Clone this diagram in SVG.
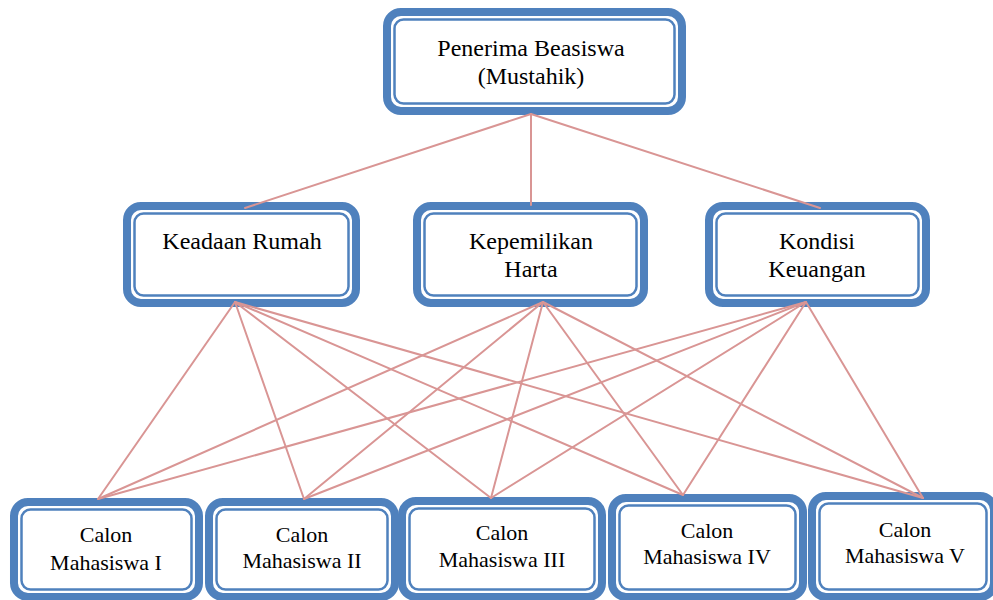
<svg xmlns="http://www.w3.org/2000/svg" width="993" height="600" viewBox="0 0 993 600">
<style>
.o{fill:#fff;stroke:#4F81BD;stroke-width:8}
.i{fill:#fff;stroke:#4F81BD;stroke-width:2.5}
.t{font-family:"Liberation Serif","Times New Roman",serif;fill:#000;text-anchor:middle}
.l{font-size:24px}
.s{font-size:22px}
.c line{stroke:#D99594;stroke-width:2;stroke-linecap:round}
</style>
<rect width="993" height="600" fill="#fff"/>
<g id="penerima">
<rect class="o" x="387" y="12" width="295" height="99" rx="14"/>
<rect class="i" x="394.5" y="19.5" width="280" height="84" rx="9"/>
<text class="t l" x="531" y="56">Penerima Beasiswa</text>
<text class="t l" x="531" y="84">(Mustahik)</text>
</g>
<g id="keadaan">
<rect class="o" x="127" y="206" width="229" height="97" rx="14"/>
<rect class="i" x="134.5" y="213.5" width="214" height="82" rx="9"/>
<text class="t l" x="242" y="249">Keadaan Rumah</text>
</g>
<g id="kepemilikan">
<rect class="o" x="417" y="206" width="227" height="97" rx="14"/>
<rect class="i" x="424.5" y="213.5" width="212" height="82" rx="9"/>
<text class="t l" x="531" y="249">Kepemilikan</text>
<text class="t l" x="531" y="277">Harta</text>
</g>
<g id="kondisi">
<rect class="o" x="709" y="206" width="217" height="97" rx="14"/>
<rect class="i" x="716.5" y="213.5" width="202" height="82" rx="9"/>
<text class="t l" x="817" y="249">Kondisi</text>
<text class="t l" x="817" y="277">Keuangan</text>
</g>
<g id="calon1">
<rect class="o" x="14" y="502" width="185" height="95" rx="14"/>
<rect class="i" x="21.5" y="509.5" width="170" height="80" rx="9"/>
<text class="t s" x="106" y="542">Calon</text>
<text class="t s" x="106" y="570">Mahasiswa I</text>
</g>
<g id="calon2">
<rect class="o" x="209" y="502" width="186" height="95" rx="14"/>
<rect class="i" x="216.5" y="509.5" width="171" height="80" rx="9"/>
<text class="t s" x="302" y="542">Calon</text>
<text class="t s" x="302" y="568">Mahasiswa II</text>
</g>
<g id="calon3">
<rect class="o" x="402" y="501" width="200" height="96" rx="14"/>
<rect class="i" x="409.5" y="508.5" width="185" height="81" rx="9"/>
<text class="t s" x="502" y="540">Calon</text>
<text class="t s" x="502" y="567">Mahasiswa III</text>
</g>
<g id="calon4">
<rect class="o" x="612" y="498" width="191" height="99" rx="14"/>
<rect class="i" x="619.5" y="505.5" width="176" height="84" rx="9"/>
<text class="t s" x="707" y="538">Calon</text>
<text class="t s" x="707" y="564">Mahasiswa IV</text>
</g>
<g id="calon5">
<rect class="o" x="812" y="496" width="182" height="101" rx="14"/>
<rect class="i" x="819.5" y="503.5" width="167" height="86" rx="9"/>
<text class="t s" x="905" y="537">Calon</text>
<text class="t s" x="905" y="563">Mahasiswa V</text>
</g>
<g id="connectors" class="c">
<line x1="531" y1="114" x2="245" y2="208"/>
<line x1="531" y1="114" x2="531" y2="205"/>
<line x1="531" y1="114" x2="820" y2="208"/>
<line x1="235" y1="302" x2="98" y2="499"/>
<line x1="235" y1="302" x2="304" y2="499"/>
<line x1="235" y1="302" x2="491" y2="498"/>
<line x1="235" y1="302" x2="683" y2="495"/>
<line x1="235" y1="302" x2="923" y2="498"/>
<line x1="543" y1="302" x2="98" y2="499"/>
<line x1="543" y1="302" x2="304" y2="499"/>
<line x1="543" y1="302" x2="491" y2="498"/>
<line x1="543" y1="302" x2="683" y2="495"/>
<line x1="543" y1="302" x2="923" y2="498"/>
<line x1="806" y1="302" x2="98" y2="499"/>
<line x1="806" y1="302" x2="304" y2="499"/>
<line x1="806" y1="302" x2="491" y2="498"/>
<line x1="806" y1="302" x2="683" y2="495"/>
<line x1="806" y1="302" x2="923" y2="498"/>
</g>
</svg>
